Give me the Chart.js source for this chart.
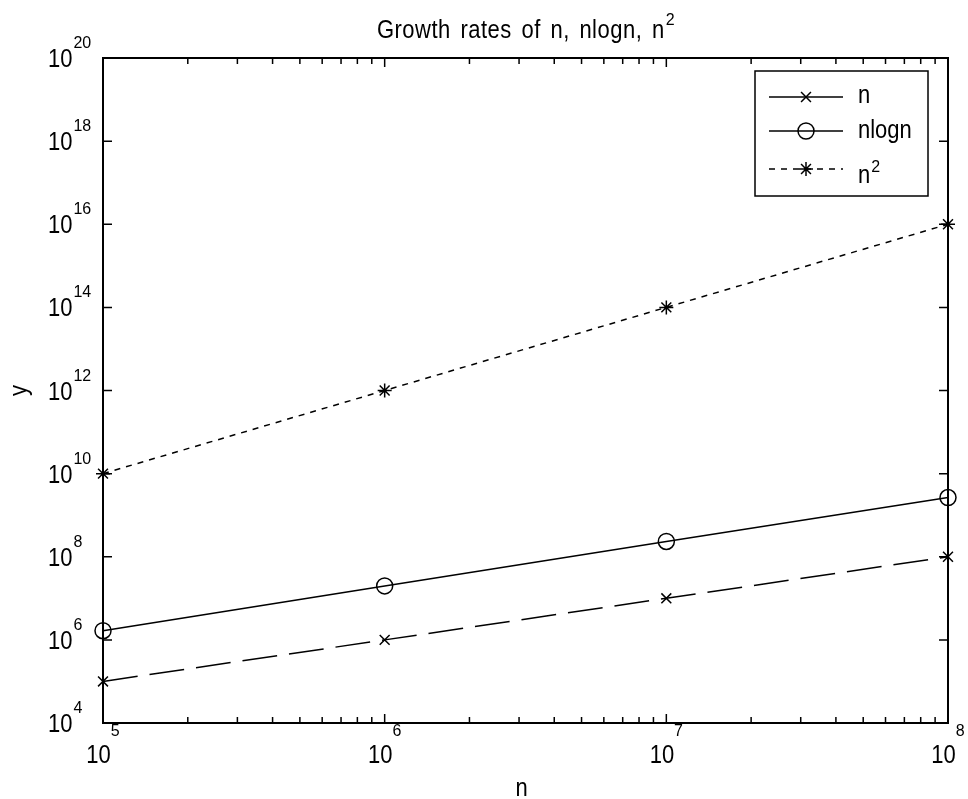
<!DOCTYPE html>
<html>
<head>
<meta charset="utf-8">
<title>Growth rates of n, nlogn, n^2</title>
<script src="https://cdn.jsdelivr.net/npm/chart.js@4.4.1/dist/chart.umd.min.js"></script>
<style>
    html, body { margin: 0; padding: 0; background: #fff; }
    #wrap { width: 968px; height: 799px; position: relative; }
</style>
</head>
<body>
<div id="wrap"><canvas id="growth-chart"></canvas></div>
<script>
// Values
const nValues = [1e5, 1e6, 1e7, 1e8];
const nSeries = [1e5, 1e6, 1e7, 1e8];
const nlognSeries = [1.66e6, 1.99e7, 2.33e8, 2.66e9];
const nSquaredSeries = [1e10, 1e12, 1e14, 1e16];

// Axis ticks (powers of ten)
const xTickExponents = [5, 6, 7, 8];
const yTickExponents = [4, 6, 8, 10, 12, 14, 16, 18, 20];
const minorSteps = [2, 3, 4, 5, 6, 7, 8, 9];

const titleText = 'Growth rates of n, nlogn, n';
const titleSup = '2';
const xAxisLabel = 'n';
const yAxisLabel = 'y';
const legendLabels = ['n', 'nlogn', 'n'];
const legendSups = ['', '', '2'];

const FONT = '"Liberation Sans", Arial, Helvetica, sans-serif';
const STRETCH = 1.2; // matlab's font is taller than Arial
const SUP_SIZE = 16;
const SUP_STRETCH = 1.0;

function textWidth(ctx, str, size) {
    ctx.font = size + 'px ' + FONT;
    return ctx.measureText(str).width;
}

function drawText(ctx, str, x, y, size, align, stretch) {
    ctx.save();
    ctx.translate(x, y);
    ctx.scale(1, stretch || STRETCH);
    ctx.font = size + 'px ' + FONT;
    ctx.textAlign = align || 'left';
    ctx.textBaseline = 'alphabetic';
    ctx.fillText(str, 0, 0);
    ctx.restore();
}

function drawSup(ctx, str, x, y) {
    drawText(ctx, str, x, y, SUP_SIZE, 'left', SUP_STRETCH);
}

function drawMarker(ctx, style, x, y, r) {
    if (window.Chart && Chart.helpers && Chart.helpers.drawPoint) {
        ctx.fillStyle = 'rgba(0,0,0,0)';
        Chart.helpers.drawPoint(ctx, { pointStyle: style, radius: r, borderWidth: 1.5, rotation: 0 }, x, y);
        ctx.fillStyle = '#000';
        return;
    }
    ctx.beginPath();
    if (style === 'circle') {
        ctx.arc(x, y, r, 0, Math.PI * 2);
    } else {
        const d = r * Math.SQRT1_2;
        ctx.moveTo(x - d, y - d); ctx.lineTo(x + d, y + d);
        ctx.moveTo(x - d, y + d); ctx.lineTo(x + d, y - d);
        if (style === 'star') {
            ctx.moveTo(x - r, y); ctx.lineTo(x + r, y);
            ctx.moveTo(x, y - r); ctx.lineTo(x, y + r);
        }
    }
    ctx.stroke();
}

// Box, inward ticks, labels, title and legend in matlab style
const matlabFrame = {
    id: 'matlabFrame',
    afterDatasetsDraw(chart) {
        const ctx = chart.ctx;
        const a = chart.chartArea;
        const xs = chart.scales.x;
        const ys = chart.scales.y;

        ctx.save();
        ctx.strokeStyle = '#000';
        ctx.fillStyle = '#000';
        ctx.setLineDash([]);

        // ticks
        ctx.lineWidth = 1.5;
        ctx.beginPath();
        xTickExponents.forEach((e, i) => {
            const v = Math.pow(10, e);
            const px = xs.getPixelForValue(v);
            ctx.moveTo(px, a.bottom); ctx.lineTo(px, a.bottom - 9);
            ctx.moveTo(px, a.top); ctx.lineTo(px, a.top + 9);
            if (i < xTickExponents.length - 1) {
                minorSteps.forEach(m => {
                    const mx = xs.getPixelForValue(m * v);
                    ctx.moveTo(mx, a.bottom); ctx.lineTo(mx, a.bottom - 6);
                    ctx.moveTo(mx, a.top); ctx.lineTo(mx, a.top + 6);
                });
            }
        });
        yTickExponents.forEach(e => {
            const py = ys.getPixelForValue(Math.pow(10, e));
            ctx.moveTo(a.left, py); ctx.lineTo(a.left + 9, py);
            ctx.moveTo(a.right, py); ctx.lineTo(a.right - 9, py);
        });
        ctx.stroke();

        // axes box
        ctx.lineWidth = 2;
        ctx.strokeRect(a.left, a.top, a.right - a.left, a.bottom - a.top);

        // x tick labels: 10^e centred under the tick
        xTickExponents.forEach(e => {
            const px = xs.getPixelForValue(Math.pow(10, e));
            const wb = textWidth(ctx, '10', 22);
            const we = textWidth(ctx, String(e), SUP_SIZE);
            const x0 = px - (wb + we) / 2;
            drawText(ctx, '10', x0, a.bottom + 40, 22);
            drawSup(ctx, String(e), x0 + wb, a.bottom + 13);
        });

        // y tick labels
        yTickExponents.forEach(e => {
            const py = ys.getPixelForValue(Math.pow(10, e));
            const x0 = a.left - 55;
            const wb = textWidth(ctx, '10', 22);
            drawText(ctx, '10', x0, py + 9, 22);
            drawSup(ctx, String(e), x0 + wb + 1, py - 10);
        });

        // title (matlab leaves wider gaps between words)
        const cx = (a.left + a.right) / 2;
        ctx.save();
        if ('wordSpacing' in ctx) ctx.wordSpacing = '3px';
        if ('letterSpacing' in ctx) ctx.letterSpacing = '0.5px';
        const mainW = textWidth(ctx, titleText, 22);
        const tw = mainW + textWidth(ctx, titleSup, SUP_SIZE);
        const tx = cx - tw / 2;
        drawText(ctx, titleText, tx, a.top - 20, 22);
        drawSup(ctx, titleSup, tx + mainW + 1, a.top - 33);
        ctx.restore();

        // axis labels
        drawText(ctx, xAxisLabel, cx - 4, a.bottom + 73, 22, 'center');
        ctx.save();
        ctx.translate(27, (a.top + a.bottom) / 2);
        ctx.rotate(-Math.PI / 2);
        drawText(ctx, yAxisLabel, 0, 0, 22, 'center');
        ctx.restore();

        // legend
        const lx = a.right - 193, ly = a.top + 13, lw = 173, lh = 125;
        ctx.fillStyle = '#fff';
        ctx.fillRect(lx, ly, lw, lh);
        ctx.fillStyle = '#000';
        ctx.lineWidth = 1.5;
        ctx.strokeRect(lx, ly, lw, lh);

        const rowY = [26, 60, 98];
        const baseY = [32, 67, 112];
        chart.data.datasets.forEach((ds, i) => {
            const y = ly + rowY[i];
            ctx.lineWidth = 1.5;
            // the legend draws the n line solid, as in the figure
            ctx.setLineDash(i === 2 ? ds.borderDash : []);
            ctx.beginPath();
            ctx.moveTo(lx + 14, y);
            ctx.lineTo(lx + 88, y);
            ctx.stroke();
            ctx.setLineDash([]);
            drawMarker(ctx, ds.pointStyle, lx + 51, y, ds.pointRadius);
            drawText(ctx, legendLabels[i], lx + 103, ly + baseY[i], 22);
            if (legendSups[i]) {
                const w = textWidth(ctx, legendLabels[i], 22);
                drawSup(ctx, legendSups[i], lx + 103 + w + 1, ly + baseY[i] - 11);
            }
        });

        ctx.restore();
    }
};

function toPoints(ys) {
    return nValues.map((x, i) => ({ x: x, y: ys[i] }));
}

const ctx = document.getElementById('growth-chart').getContext('2d');
new Chart(ctx, {
    type: 'line',
    data: {
        datasets: [{
            label: 'n',
            data: toPoints(nSeries),
            borderColor: '#000',
            borderWidth: 1.5,
            borderDash: [35, 12],
            pointStyle: 'crossRot',
            pointRadius: 7,
            pointBorderWidth: 1.5,
            pointBorderColor: '#000',
            pointBackgroundColor: 'rgba(0,0,0,0)',
            tension: 0,
            fill: false,
            clip: false
        }, {
            label: 'nlogn',
            data: toPoints(nlognSeries),
            borderColor: '#000',
            borderWidth: 1.5,
            pointStyle: 'circle',
            pointRadius: 8,
            pointBorderWidth: 1.5,
            pointBorderColor: '#000',
            pointBackgroundColor: 'rgba(0,0,0,0)',
            tension: 0,
            fill: false,
            clip: false
        }, {
            label: 'n²',
            data: toPoints(nSquaredSeries),
            borderColor: '#000',
            borderWidth: 1.5,
            borderDash: [6, 6],
            pointStyle: 'star',
            pointRadius: 7,
            pointBorderWidth: 1.5,
            pointBorderColor: '#000',
            pointBackgroundColor: 'rgba(0,0,0,0)',
            tension: 0,
            fill: false,
            clip: false
        }]
    },
    options: {
        responsive: true,
        maintainAspectRatio: false,
        animation: false,
        events: [],
        layout: { padding: { left: 103, top: 58, right: 20, bottom: 76 } },
        plugins: {
            legend: { display: false },
            title: { display: false },
            tooltip: { enabled: false }
        },
        scales: {
            x: { type: 'logarithmic', min: 1e5, max: 1e8, display: false },
            y: { type: 'logarithmic', min: 1e4, max: 1e20, display: false }
        }
    },
    plugins: [matlabFrame]
});
</script>
</body>
</html>
